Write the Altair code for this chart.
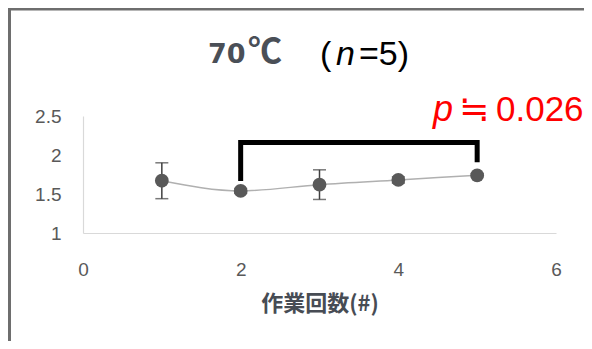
import altair as alt
import pandas as pd

# data
cycles = [1, 2, 3, 4, 5]
means = [1.67, 1.54, 1.62, 1.68, 1.74]
errs = [0.23, 0.03, 0.19, 0.04, 0.02]

bracket_x = [2, 2, 5, 5]
bracket_y = [1.70, 2.16, 2.16, 1.94]

x_ticks = [0, 2, 4, 6]
y_ticks = [1, 1.5, 2, 2.5]

df = pd.DataFrame({
    "x": cycles,
    "m": means,
    "lo": [m - e for m, e in zip(means, errs)],
    "hi": [m + e for m, e in zip(means, errs)],
})
br = pd.DataFrame({"x": bracket_x, "y": bracket_y, "o": list(range(len(bracket_x)))})
one = pd.DataFrame({"a": [0]})

xs = alt.Scale(domain=[0, 6], nice=False)
ys = alt.Scale(domain=[1, 2.5], nice=False)

x_enc = alt.X("x:Q", scale=xs, axis=alt.Axis(values=x_ticks, title="作業回数(#)", labelPadding=27,
                                            labelFlush=False,
                                            titlePadding=14, titleFont="Noto Sans CJK JP",
                                            titleFontSize=22, titleColor="#474c54", titleFontWeight="bold"))
y_axis = alt.Axis(values=y_ticks, title=None, labelPadding=22, format=".1~f")

line = alt.Chart(df).mark_line(interpolate="monotone", color="#b0b0b0", strokeWidth=1.5).encode(
    x=x_enc, y=alt.Y("m:Q", scale=ys, axis=y_axis))
rules = alt.Chart(df).mark_rule(color="#404040", strokeWidth=1.5).encode(
    x=x_enc, y=alt.Y("lo:Q", scale=ys, axis=y_axis), y2="hi:Q")
cap_lo = alt.Chart(df).mark_tick(color="#404040", thickness=1.5, size=13, orient="horizontal").encode(
    x=x_enc, y=alt.Y("lo:Q", scale=ys, axis=y_axis))
cap_hi = alt.Chart(df).mark_tick(color="#404040", thickness=1.5, size=13, orient="horizontal").encode(
    x=x_enc, y=alt.Y("hi:Q", scale=ys, axis=y_axis))
pts = alt.Chart(df).mark_circle(color="#595959", opacity=1, size=190).encode(
    x=x_enc, y=alt.Y("m:Q", scale=ys, axis=y_axis))
bracket = alt.Chart(br).mark_line(color="black", strokeWidth=5, strokeCap="square", strokeJoin="miter").encode(
    x=x_enc, y=alt.Y("y:Q", scale=ys, axis=y_axis), order="o:Q")

def txt(s, x, y, size, color="black", font="Liberation Sans", weight="normal", style="normal"):
    return alt.Chart(one).mark_text(text=s, align="left", baseline="alphabetic", fontSize=size,
                                    color=color, font=font, fontWeight=weight, fontStyle=style).encode(
        x=alt.value(x), y=alt.value(y))

t1a = txt("70", 125, -53, 27, color="#4a4f57", font="DejaVu Sans", weight="bold")
t1b = txt("℃", 165, -53, 34, color="#4a4f57", font="Noto Sans CJK JP", weight="bold")
t2 = txt("(", 237, -51, 34)
t3 = txt("n", 253, -51, 34, style="italic")
t4 = txt("=5)", 276, -51, 34)
p1 = txt("p", 350, 5, 36, color="#ff0000", style="italic")
p2 = txt("≒", 376, 5, 36, color="#ff0000", font="DejaVu Sans")
p3 = txt("0.026", 413, 5, 35, color="#ff0000")

frame_l = alt.Chart(one).mark_rule(color="#6e6e6e", strokeWidth=3).encode(
    x=alt.value(-73.5), y=alt.value(-108.5), y2=alt.value(240))
frame_t = alt.Chart(one).mark_rule(color="#6e6e6e", strokeWidth=3).encode(
    x=alt.value(-75), x2=alt.value(510), y=alt.value(-107))

chart = alt.layer(frame_l, frame_t, line, rules, cap_lo, cap_hi, pts, bracket,
                  t1a, t1b, t2, t3, t4, p1, p2, p3).properties(
    width=473, height=117,
    padding={"left": 75, "top": 108, "right": 28, "bottom": 108},
    autosize=alt.AutoSizeParams(type="none"),
    background="white",
).configure_view(stroke=None).configure_axis(
    grid=False, ticks=False, domainColor="#d9d9d9", domainWidth=1.2,
    labelColor="#595959", labelFont="Liberation Sans", labelFontSize=19,
)

chart.save("out.html", embed_options={"renderer": "svg", "actions": False})
